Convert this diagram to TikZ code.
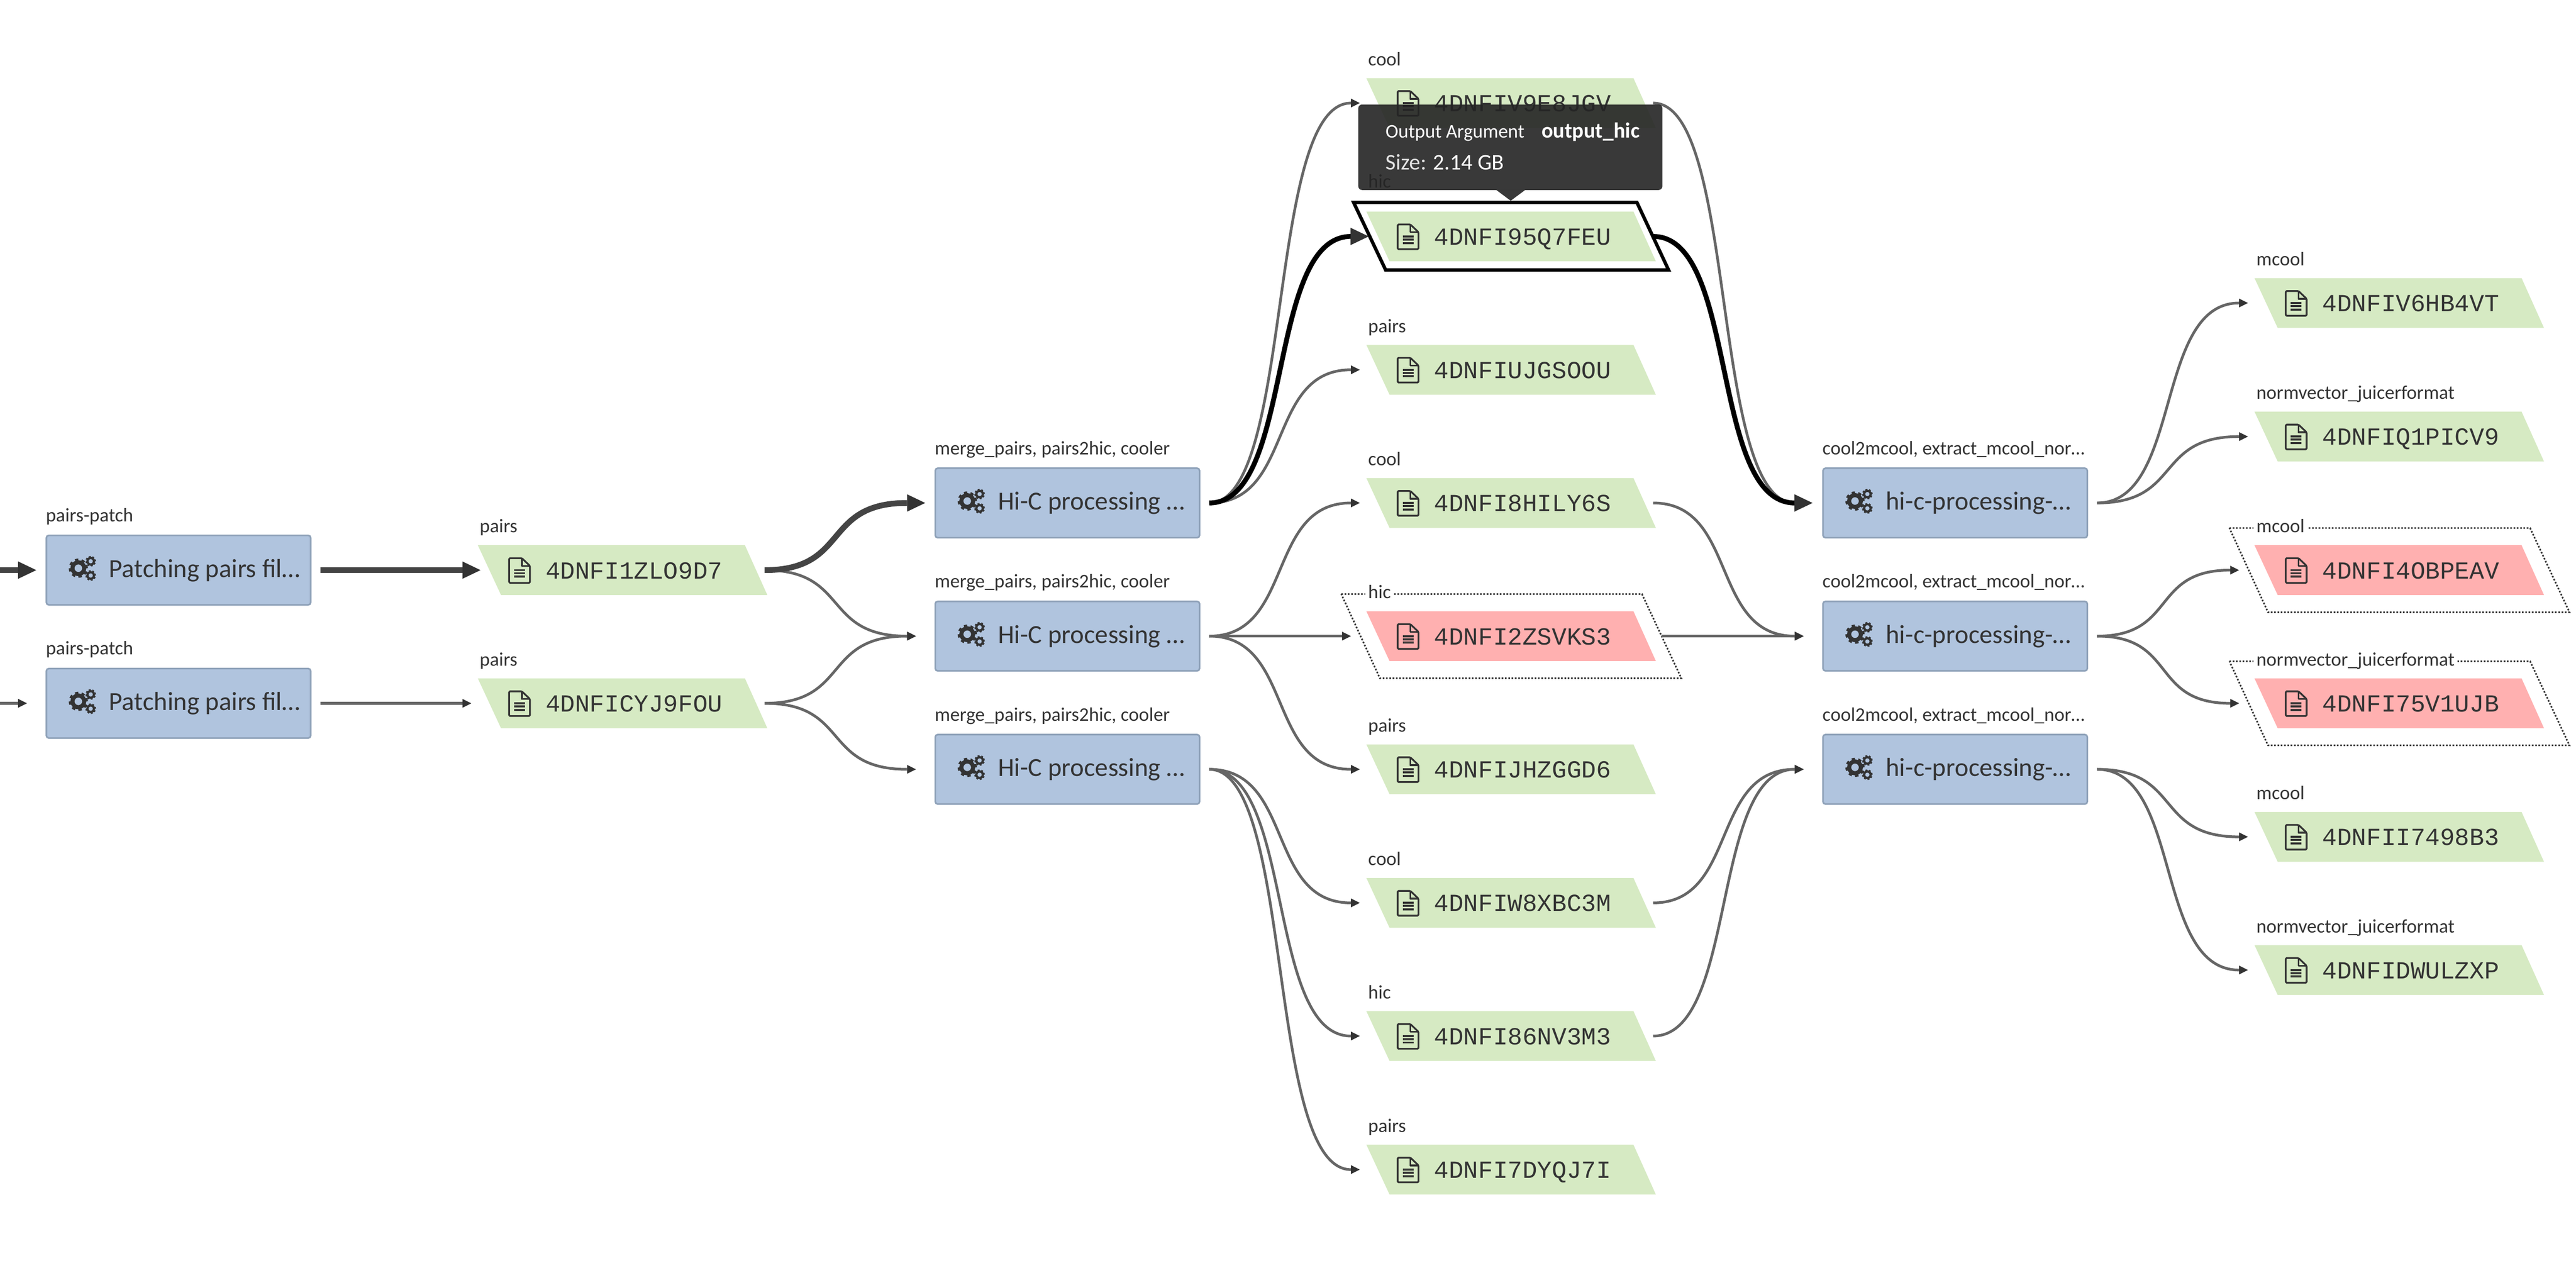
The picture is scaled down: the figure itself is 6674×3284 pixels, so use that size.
\documentclass[tikz,border=0pt]{standalone}
\usepackage{fontspec}
\setmainfont{Carlito}
\newfontfamily\idfont{Liberation Mono}
\usetikzlibrary{arrows.meta,calc}
\definecolor{ink}{HTML}{333333}
\definecolor{edgegray}{HTML}{666666}
\definecolor{edgedark}{HTML}{444444}
\definecolor{boxfill}{HTML}{B0C4DE}
\definecolor{boxline}{HTML}{8FA2B9}
\definecolor{okfill}{HTML}{D6EAC3}
\definecolor{badfill}{HTML}{FFB0B0}
\definecolor{tipfill}{HTML}{242424}
\definecolor{tipgray}{HTML}{E4E4E4}
\tikzset{
  x=0.25pt,y=-0.25pt,
  procbox/.style={draw=boxline,fill=boxfill,line width=1.05pt,rounded corners=1.6pt,minimum width=171.2pt,minimum height=45pt,inner sep=0pt,outer sep=0pt},
  lab/.style={anchor=base west,inner sep=0pt,text=ink,font=\fontsize{12.5}{12.5}\selectfont},
  halolab/.style={lab,fill=white,inner xsep=2pt,inner ysep=0.5pt},
  proctext/.style={anchor=base west,inner sep=0pt,text=ink,font=\fontsize{16.9}{16.9}\selectfont},
  idtext/.style={anchor=base west,inner sep=0pt,text=ink,font=\idfont\fontsize{15.9}{15.9}\selectfont},
  tipbox/.style={fill=tipfill,fill opacity=0.9,rounded corners=2.5pt,minimum width=197pt,minimum height=55.4pt,inner sep=0pt,outer sep=0pt},
  tiptext/.style={anchor=base west,inner sep=0pt,text=white,font=\fontsize{14.5}{14.5}\selectfont},
  okshape/.style={fill=okfill},
  badshape/.style={fill=badfill},
  dotframe/.style={draw=ink,fill=white,line width=1.05pt,dash pattern=on 1.07pt off 1.07pt},
  selframe/.style={draw=black,fill=white,line width=2.2pt,miter limit=10},
  edgethin/.style={draw=edgegray,line width=1.75pt,-{Triangle[length=5.75pt,width=5.75pt,line width=0pt,color=ink,fill=ink]}},
  edgebold/.style={draw=edgedark,line width=3.75pt,-{Triangle[length=11.75pt,width=11.25pt,line width=0pt,color=ink,fill=ink]}},
  edgeblack/.style={draw=black,line width=3.15pt,-{Triangle[length=11.75pt,width=11.25pt,line width=0pt,color=ink,fill=ink]}},
}
% curved connector: from #2 to the base #3 of the arrow head, head length #4
\newcommand\conn[4]{%
  \draw[#1] let \p1=(#2),\p2=(#3),\n1={0.6*(\x2-\x1)} in
    (#2) .. controls ({\x1+\n1},\y1) and ({\x2-\n1},\y2) .. (#3) -- ++(#4,0);}
\newcommand\gearshape[3]{%
  \pgfmathsetmacro\gr{#3*0.25}%
  \pgfmathsetmacro\gw{0.45*\gr}%
  \pgfmathsetmacro\grr{0.65*\gr}%
  \pgfmathsetmacro\gt{0.93*\gr}%
  \pgfmathsetmacro\gd{3.14159*\gt/8}%
  \pgfmathsetmacro\gh{0.26*\gr}%
  \draw[ink,line width=\gw pt] ({#1},{#2}) circle[radius=\grr pt];
  \draw[ink,line width=\gh pt,dash pattern=on \gd pt off \gd pt] ({#1},{#2}) circle[radius=\gt pt];}
\newcommand\fileicon[2]{%
  \begin{scope}[shift={({#1},{#2})},line join=round]
    \draw[ink,line width=1.15pt,rounded corners=0.6pt] (0,0) -- (33,0) -- (54,20) -- (54,64) -- (0,64) -- cycle;
    \draw[ink,line width=1.15pt] (33,0) -- (33,20) -- (54,20);
    \draw[ink,line width=1.3pt] (13,31) -- (41,31) (13,39) -- (41,39) (13,48) -- (41,48);
  \end{scope}}
% name, x0, yc, shape style, id
\newcommand\datashape[5]{%
  \fill[#4] ({#2},{#3-64.5}) -- ({#2+692},{#3-64.5}) -- ({#2+750},{#3+64.5}) -- ({#2+60},{#3+64.5}) -- cycle;
  \fileicon{#2+81}{#3-31}
  \node[idtext] (#1) at ({#2+175},{#3+22}) {#5};}
% plain data node: name, x0, yc, label, id
\newcommand\okdata[5]{%
  \datashape{#1}{#2}{#3}{okshape}{#5}
  \node[lab] (#1-l) at ({#2+4},{#3-97}) {#4};
  \coordinate (#1-b) at ({#2-40},{#3});
  \coordinate (#1-o) at ({#2+743},{#3});}
% failed data node with dotted frame
\newcommand\baddata[5]{%
  \draw[dotframe] ({#2-65},{#3-109}) -- ({#2+714},{#3-109}) -- ({#2+816},{#3+109}) -- ({#2+35},{#3+109}) -- cycle;
  \datashape{#1}{#2}{#3}{badshape}{#5}
  \node[halolab] (#1-l) at ({#2-4},{#3-97}) {#4};
  \coordinate (#1-b) at ({#2-63},{#3});
  \coordinate (#1-o) at ({#2+765},{#3});}
% process: name, x0, yc, label, text
\newcommand\procnode[5]{%
  \node[procbox] (#1) at ({#2+344.5},{#3}) {};
  \gearshape{#2+85}{#3-5}{23.5}
  \gearshape{#2+117}{#3-23}{13}
  \gearshape{#2+117}{#3+14}{13}
  \node[proctext] (#1-t) at ({#2+164},{#3+18}) {#5};
  \node[lab] (#1-l) at ({#2},{#3-125.5}) {#4};
  \coordinate (#1-b) at ({#2-71},{#3});
  \coordinate (#1-o) at ({#2+712},{#3});}
\begin{document}
\begin{tikzpicture}
\useasboundingbox (0,0) rectangle (6674,3284);
% processes
\procnode{P1}{118}{1477}{pairs-patch}{Patching pairs fil…}
\procnode{P2}{118}{1822}{pairs-patch}{Patching pairs fil…}
\procnode{H1}{2421}{1303}{merge\_pairs, pairs2hic, cooler}{Hi-C processing …}
\procnode{H2}{2421}{1648}{merge\_pairs, pairs2hic, cooler}{Hi-C processing …}
\procnode{H3}{2421}{1993}{merge\_pairs, pairs2hic, cooler}{Hi-C processing …}
\procnode{K1}{4721}{1303}{cool2mcool, extract\_mcool\_nor…}{hi-c-processing-…}
\procnode{K2}{4721}{1648}{cool2mcool, extract\_mcool\_nor…}{hi-c-processing-…}
\procnode{K3}{4721}{1993}{cool2mcool, extract\_mcool\_nor…}{hi-c-processing-…}
% first data column
\okdata{D1}{1238}{1477}{pairs}{4DNFI1ZLO9D7}
\okdata{D2}{1238}{1822}{pairs}{4DNFICYJ9FOU}
% second data column
\okdata{A1}{3540}{267}{cool}{4DNFIV9E8JGV}
\draw[selframe] (3507,524.5) -- (4241,524.5) -- (4323,699.5) -- (3590,699.5) -- cycle;
\datashape{A2}{3540}{612.5}{okshape}{4DNFI95Q7FEU}
\node[lab] (A2-l) at (3544,487) {hic};
\coordinate (A2-b) at (3500,612.5);
\coordinate (A2-o) at (4283,612.5);
\okdata{A3}{3540}{958}{pairs}{4DNFIUJGSOOU}
\okdata{A4}{3540}{1303}{cool}{4DNFI8HILY6S}
\baddata{A5}{3540}{1648}{hic}{4DNFI2ZSVKS3}
\okdata{A6}{3540}{1993}{pairs}{4DNFIJHZGGD6}
\okdata{A7}{3540}{2339}{cool}{4DNFIW8XBC3M}
\okdata{A8}{3540}{2684}{hic}{4DNFI86NV3M3}
\okdata{A9}{3540}{3030}{pairs}{4DNFI7DYQJ7I}
% third data column
\okdata{C1}{5841}{785}{mcool}{4DNFIV6HB4VT}
\okdata{C2}{5841}{1131}{normvector\_juicerformat}{4DNFIQ1PICV9}
\baddata{C3}{5841}{1477}{mcool}{4DNFI4OBPEAV}
\baddata{C4}{5841}{1822}{normvector\_juicerformat}{4DNFI75V1UJB}
\okdata{C5}{5841}{2168}{mcool}{4DNFII7498B3}
\okdata{C6}{5841}{2513}{normvector\_juicerformat}{4DNFIDWULZXP}
% free ends at the left border
\coordinate (in1) at (0,1477);
\coordinate (in2) at (0,1822);
% connectors
\conn{edgebold}{in1}{P1-b}{47}
\conn{edgethin}{in2}{P2-b}{23}
\conn{edgebold}{P1-o}{D1-b}{47}
\conn{edgethin}{P2-o}{D2-b}{23}
\conn{edgethin}{D1-o}{H2-b}{23}
\conn{edgebold}{D1-o}{H1-b}{47}
\conn{edgethin}{D2-o}{H2-b}{23}
\conn{edgethin}{D2-o}{H3-b}{23}
\conn{edgethin}{H1-o}{A1-b}{23}
\conn{edgethin}{H1-o}{A3-b}{23}
\conn{edgeblack}{H1-o}{A2-b}{46}
\conn{edgethin}{H2-o}{A4-b}{23}
\conn{edgethin}{H2-o}{A5-b}{23}
\conn{edgethin}{H2-o}{A6-b}{23}
\conn{edgethin}{H3-o}{A7-b}{23}
\conn{edgethin}{H3-o}{A8-b}{23}
\conn{edgethin}{H3-o}{A9-b}{23}
\conn{edgethin}{A1-o}{K1-b}{23}
\conn{edgeblack}{A2-o}{K1-b}{46}
\conn{edgethin}{A4-o}{K2-b}{23}
\conn{edgethin}{A5-o}{K2-b}{23}
\conn{edgethin}{A7-o}{K3-b}{23}
\conn{edgethin}{A8-o}{K3-b}{23}
\conn{edgethin}{K1-o}{C1-b}{23}
\conn{edgethin}{K1-o}{C2-b}{23}
\conn{edgethin}{K2-o}{C3-b}{23}
\conn{edgethin}{K2-o}{C4-b}{23}
\conn{edgethin}{K3-o}{C5-b}{23}
\conn{edgethin}{K3-o}{C6-b}{23}
% tooltip
\node[tipbox] (tip) at (3913,381.5) {};
\fill[tipfill,fill opacity=0.9] (3877,492.5) -- (3951,492.5) -- (3914,520) -- cycle;
\node[tiptext,font=\fontsize{12.5}{12.5}\selectfont] (tip-a) at (3589,357) {Output Argument};
\node[tiptext,font=\fontsize{14}{14}\selectfont\bfseries] (tip-b) at (3993,357) {output\_hic};
\node[tiptext,text=tipgray] (tip-c) at (3589,440) {Size:};
\node[tiptext] (tip-d) at (3712,440) {2.14 GB};
\end{tikzpicture}
\end{document}
